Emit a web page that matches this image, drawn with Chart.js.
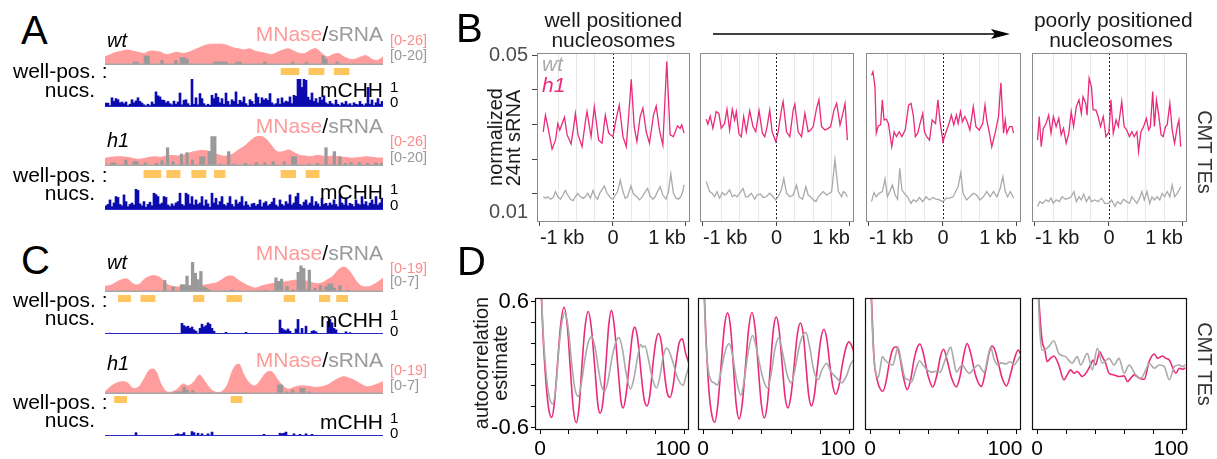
<!DOCTYPE html>
<html><head><meta charset="utf-8">
<script src="https://cdn.jsdelivr.net/npm/chart.js@4.4.1/dist/chart.umd.min.js"></script>
<style>
html,body{margin:0;padding:0;background:#fff;}
#root{position:relative;width:1217px;height:459px;overflow:hidden;font-family:"Liberation Sans",Arial,sans-serif;color:#000;}
.t{position:absolute;white-space:nowrap;line-height:1;}
</style></head><body><div id="root">
<svg style="position:absolute;left:0;top:0" width="1217" height="459">
<line x1="713" y1="34" x2="996" y2="34" stroke="#000" stroke-width="1.5"/>
<polygon points="991,29 1010,34 991,39 995,34" fill="#000"/>
</svg>
</div>
<script>
// ---------------- DATA ----------------
// Panels A / C : genome-browser tracks (x in track units 0..100)
const MN_POS = [0,2,4,6,8,10,12,14,16,18,20,22,24,26,28,30,32,34,36,38,40,42,44,46,48,50,52,54,56,58,60,62,64,66,68,70,72,74,76,78,80,82,84,86,88,90,92,94,96,98,100];
const A_WT_MNASE = [7,9,11,12,13,12,11,10,12,12,11,9,10,11,10,11,13,15,17,18,18,18,17,15,14,13,14,12,11,10,9,11,13,14,12,10,10,13,14,10,7,9,10,7,5,5,7,8,5,4,7];
const A_H1_MNASE = [6.6,7.5,8,8,7.5,6.6,5.8,6.4,7.5,8,7.5,8.7,9.2,8.7,9.2,11,12.4,13.3,13.3,12.4,10.4,8.7,8.7,10.4,13.9,16.8,21.1,24.9,26,23.1,17.3,12.4,12.4,13.9,11.6,9.2,8.7,8,9.2,8.7,8,8.7,8,7.5,6.9,6.9,7.5,8,7.5,6.9,6.9];
const C_WT_MNASE = [3.6,4.2,6.1,7.8,8.2,5.3,4.6,7.8,9.9,10.3,8.9,5.3,3.6,3.2,3.2,3.6,4.0,4.0,4.4,5.1,5.7,7.8,9.9,9.9,7.4,5.3,3.6,2.5,3.6,4.6,5.3,5.7,6.1,6.8,7.4,7.8,7.2,6.1,5.3,5.7,7.8,9.9,14.1,15.8,13.1,7.8,4.0,3.2,4.0,6.1,8.9];
const C_H1_MNASE = [1.5,4.6,6.8,7.8,7.2,3.6,4.2,9.3,15.2,15.2,6.8,1.5,1.3,3.0,6.3,5.1,7.8,12.0,7.8,3.0,1.1,1.5,5.7,15.2,19.4,12.0,6.8,5.1,8.9,13.5,14.1,9.3,5.1,3.0,4.2,5.1,5.1,4.6,4.2,4.6,5.7,7.8,9.9,11.0,9.9,8.4,6.3,4.6,5.1,6.3,7.8];

// sRNA bars: [position, value]
const A_WT_SRNA = [[10.5,2],[11.5,2],[14.5,6],[15.5,6],[20.5,3],[25.5,3],[27.5,5],[28.5,5],[29.5,4],[39.5,2],[40.5,2],[41.5,2],[42.5,2],[43.5,2],[47.5,2],[48.5,2],[57.5,2],[67.5,2],[72.5,2],[78.5,6],[79.5,4],[83.5,2]];
const A_H1_SRNA = [[2.5,2],[3.5,2],[7.5,4],[10.5,3],[11.5,3],[14.5,2.2],[18.5,1.8],[20.5,3.5],[22.5,12.2],[24.5,2.9],[27.5,8],[29.5,8.9],[31.5,4],[34.5,6.2],[35.5,6.2],[37.5,9.6],[38.5,19.6],[39.5,19.6],[41.5,1.3],[44.5,9.6],[46.5,1.3],[50.5,1.8],[54.5,2.2],[57.5,2.2],[60.5,2.9],[64.5,2.9],[67.5,6.2],[68.5,6.2],[73.5,1.3],[76.5,1.8],[79.5,12.2],[82.5,9.6],[84.5,6.2],[86.5,1.8],[88.5,2.2],[91.5,2.2],[94.5,1.8],[97.5,2.2],[99.5,1.8]];
const C_WT_SRNA = [[21.5,2.7],[24.5,1.2],[27.5,1.7],[28.5,1.7],[29.5,3.7],[30.5,1.5],[31.5,7.2],[32.5,4.4],[33.5,2.9],[34.5,4.8],[35.5,1.2],[36.5,0.9],[37.5,0.5],[45.5,0.5],[57.5,0.4],[61.5,3.3],[62.5,2.5],[63.5,3.0],[65.5,1.3],[67.5,0.5],[69.5,4.6],[70.5,6.1],[71.5,5.5],[72.5,0.5],[73.5,5.1],[75.5,0.9],[77.5,1.5],[79.5,1.3],[80.5,1.9],[81.5,1.9],[82.5,0.9],[84.5,1.5],[87.5,0.4]];
const C_H1_SRNA = [[25.5,0.5],[26.5,0.5],[27.5,0.5],[28.5,1.6],[29.5,0.9],[31.5,0.8],[37.5,0.3],[62.5,2.1],[63.5,2.1],[65.5,0.5],[67.5,0.9],[70.5,1.3],[71.5,1.3],[73.5,0.5]];

// well-positioned nucleosomes: [start, end]
const A_WT_NUCS = [[63.3,69.8],[73.3,78.8],[82.5,87.8]];
const A_H1_NUCS = [[14.0,20.1],[22.2,27.0],[31.2,36.3],[39.3,43.2],[63.3,68.6],[72.3,77.0]];
const C_WT_NUCS = [[4.8,9.2],[12.9,18.0],[31.8,35.6],[43.8,49.2],[64.4,68.3],[77.1,80.9],[83.3,87.3]];
const C_H1_NUCS = [[3.4,7.8],[45.3,49.3]];

// mCHH (139 bins)
const A_WT_MCHH = [.14,.14,.05,.33,.2,.3,.26,.15,.18,.12, .18,.05,.1,.26,.15,.22,.33,.2,.14,.08, .04,.1,.05,.18,.1,.54,.4,.36,.25,.24, .15,.2,.12,.08,.21,.1,.18,.5,.08,.24, .26,.12,.05,.99,.1,.33,.08,.48,.3,.12, .05,.1,.06,.42,.3,.48,.35,.15,.3,.1, .5,.2,.08,.26,.2,.54,.1,.24,.18,.36, .12,.05,.26,.2,.1,.48,.35,.12,.33,.25, .3,.24,.48,.15,.08,.12,.3,.1,.33,.15, .21,.18,.36,.12,.42,.38,1,1,.7,1, .95,.35,.25,.5,.2,.3,.15,.35,.25,.4, .15,.1,.2,.12,.08,.25,.1,.05,.15,.1, .2,.08,.12,.05,.15,.1,.08,.2,.1,.05, .12,.7,.1,.25,.05,.15,.3,.1,.2];
const A_H1_MCHH = [.15,.2,.36,.12,.25,.48,.45,.2,.15,.54, .3,.12,.2,.25,.18,.74,.7,.22,.15,.3, .1,.2,.28,.15,.6,.55,.48,.2,.25,.48, .45,.18,.12,.22,.15,.25,.3,.6,.2,.15, .6,.55,.22,.48,.18,.36,.2,.25,.48,.15, .36,.22,.1,.6,.25,.42,.18,.3,.48,.2, .15,.25,.48,.2,.12,.36,.22,.28,.48,.15, .3,.18,.1,.22,.24,.15,.2,.36,.12,.25, .3,.15,.2,.28,.42,.18,.12,.36,.2,.15, .3,.22,.54,.18,.25,.48,.6,.2,.15,.28, .36,.18,.25,.48,.15,.3,.22,.12,.42,.2, .24,.15,.25,.18,.36,.2,.12,.54,.25,.18, .42,.15,.24,.2,.12,.36,.22,.18,.48,.2, .3,.15,.25,.36,.2,.48,.18,.25,.42];
const C_WT_MCHH = [0,0,.03,0,0,0,0,0,0,0, 0,0,0,0,0,0,0,0,0,0, 0,0,0,0,0,0,0,0,0,0, 0,0,0,0,0,0,0,0,.38,.3, .25,.28,.2,.25,.15,.1,0,.2,.35,.25, .3,.4,.35,.2,.1,0,0,0,0,0, .06,0,0,0,0,0,0,0,0,0, .06,0,0,0,0,0,0,0,0,0, 0,0,0,0,0,0,0,.5,.2,.15, .12,.18,.1,0,0,.18,.52,0,.2,0, .28,0,0,.1,.12,.08,0,0,0,0, 0,.45,.52,.4,.2,.15,0,0,0,0, .08,0,.05,0,0,0,0,0,0,0, 0,0,0,0,0,0,0,0,0];
const C_H1_MCHH = [0,0,0,0,0,0,0,0,0,0, 0,0,0,0,0,.12,0,0,0,0, 0,0,0,0,0,0,0,0,0,0, 0,0,0,0,0,.06,.08,.05,.06,.12, 0,0,0,.16,.12,0,.1,0,.08,0, 0,.08,0,.14,0,0,0,0,0,0, 0,0,0,0,0,0,0,0,0,0, 0,0,0,0,0,0,0,0,0,.06, 0,0,0,0,0,0,0,.1,.08,.1, .14,0,0,0,.08,0,0,.06,0,0, .08,0,0,.06,0,0,0,0,0,0, 0,0,0,0,0,0,0,0,0,0, 0,0,0,0,0,0,0,0,0,0, 0,0,0,0,0,0,0,0,0];

// Panel B : normalized 24nt sRNA, [position bp, value]
const B_XTICKS = [-1000,-750,-500,-250,0,250,500,750,1000];
const B_XLABELS = ['-1 kb','','','','0','','','','1 kb'];
const B_XMAJOR = [1,0,0,0,1,0,0,0,1];
const B_YTICKS = [0.00482,0.01,0.02,0.03,0.04,0.05];
const B_YLABELS = ['0.01','','','','','0.05'];
const B1_H1 = [[-955,.0279],[-924,.0327],[-892,.0294],[-833,.0229],[-787,.0255],[-755,.0303],[-728,.0284],[-664,.0321],[-628,.0270],[-573,.0244],[-537,.0294],[-514,.0332],[-478,.0270],[-423,.0236],[-378,.0308],[-355,.0337],[-300,.0265],[-255,.0351],[-196,.0255],[-150,.0246],[-105,.0327],[-59,.0275],[0,.0265],[41,.0313],[86,.0356],[137,.0265],[182,.0236],[228,.0361],[250,.0430],[291,.0294],[328,.0251],[373,.0323],[410,.0347],[455,.0279],[500,.0246],[555,.0327],[592,.0353],[637,.0284],[683,.0241],[737,.0481],[783,.0270],[828,.0265],[883,.0296],[919,.0289],[942,.0299],[973,.0275]];
const B1_WT = [[-955,.0092],[-924,.0088],[-892,.0092],[-855,.0085],[-819,.0090],[-787,.0107],[-755,.0092],[-719,.0085],[-683,.0097],[-651,.0110],[-619,.0097],[-582,.0085],[-546,.0081],[-514,.0092],[-482,.0102],[-446,.0092],[-410,.0088],[-378,.0092],[-346,.0102],[-309,.0088],[-273,.0110],[-241,.0092],[-209,.0085],[-182,.0102],[-118,.0123],[-82,.0102],[-36,.0090],[0,.0085],[32,.0097],[64,.0107],[100,.0140],[137,.0107],[168,.0088],[200,.0092],[246,.0123],[282,.0100],[328,.0092],[364,.0083],[396,.0090],[428,.0102],[473,.0116],[510,.0094],[546,.0085],[578,.0092],[610,.0107],[646,.0121],[683,.0097],[728,.0085],[760,.0107],[792,.0158],[828,.0102],[865,.0088],[896,.0085],[928,.0092],[956,.0107],[974,.0126]];
const B2_H1 = [[-955,.0315],[-933,.0301],[-901,.0324],[-865,.0289],[-819,.0337],[-783,.0332],[-751,.0289],[-705,.0303],[-673,.0344],[-637,.0284],[-601,.0344],[-569,.0313],[-546,.0337],[-510,.0273],[-478,.0265],[-446,.0323],[-410,.0279],[-364,.0340],[-319,.0294],[-282,.0279],[-237,.0340],[-191,.0275],[-159,.0265],[-127,.0294],[-91,.0342],[-59,.0279],[-9,.0251],[23,.0279],[68,.0342],[91,.0366],[137,.0279],[182,.0265],[228,.0342],[250,.0359],[296,.0279],[341,.0265],[387,.0332],[432,.0279],[464,.0284],[500,.0294],[546,.0347],[578,.0371],[614,.0294],[660,.0284],[705,.0289],[737,.0294],[783,.0342],[819,.0361],[865,.0299],[901,.0330],[933,.0361],[965,.0255]];
const B2_WT = [[-955,.0136],[-910,.0107],[-874,.0102],[-842,.0092],[-810,.0107],[-774,.0088],[-737,.0104],[-705,.0097],[-673,.0102],[-637,.0112],[-601,.0092],[-569,.0097],[-537,.0092],[-501,.0102],[-455,.0116],[-419,.0092],[-387,.0092],[-341,.0102],[-296,.0085],[-264,.0097],[-218,.0100],[-182,.0090],[-137,.0092],[-91,.0102],[-46,.0092],[-9,.0083],[23,.0092],[68,.0112],[100,.0145],[137,.0102],[182,.0092],[228,.0097],[273,.0126],[309,.0092],[355,.0085],[400,.0121],[432,.0097],[464,.0092],[500,.0083],[537,.0078],[569,.0092],[614,.0102],[637,.0107],[683,.0097],[719,.0102],[751,.0107],[796,.0198],[842,.0107],[887,.0092],[910,.0107],[933,.0104],[965,.0092]];
const B3_H1 = [[-965,.0442],[-946,.0452],[-919,.0409],[-901,.0275],[-874,.0296],[-842,.0299],[-819,.0371],[-796,.0313],[-764,.0315],[-737,.0303],[-692,.0236],[-660,.0279],[-628,.0265],[-592,.0279],[-555,.0265],[-510,.0284],[-464,.0356],[-432,.0361],[-401,.0327],[-373,.0265],[-341,.0275],[-309,.0303],[-273,.0332],[-250,.0279],[-219,.0265],[-182,.0255],[-146,.0313],[-100,.0303],[-68,.0371],[-36,.0303],[0,.0251],[36,.0275],[82,.0303],[114,.0327],[146,.0299],[182,.0327],[205,.0303],[237,.0337],[264,.0308],[296,.0323],[328,.0308],[364,.0284],[410,.0351],[446,.0294],[491,.0284],[537,.0303],[569,.0356],[592,.0313],[628,.0275],[660,.0236],[705,.0275],[751,.0323],[783,.0420],[819,.0275],[842,.0313],[864,.0275],[901,.0294],[933,.0294],[955,.0275]];
const B3_WT = [[-965,.0078],[-933,.0104],[-901,.0092],[-864,.0102],[-819,.0107],[-783,.0143],[-751,.0092],[-719,.0107],[-683,.0126],[-646,.0097],[-614,.0085],[-583,.0174],[-555,.0112],[-523,.0102],[-478,.0092],[-432,.0073],[-401,.0083],[-355,.0078],[-319,.0090],[-273,.0078],[-228,.0092],[-182,.0083],[-137,.0090],[-91,.0085],[-45,.0083],[0,.0078],[45,.0088],[91,.0088],[137,.0092],[173,.0107],[205,.0121],[241,.0161],[273,.0102],[319,.0083],[364,.0092],[410,.0102],[455,.0097],[500,.0083],[546,.0092],[592,.0107],[637,.0092],[683,.0107],[728,.0092],[774,.0116],[810,.0150],[842,.0107],[874,.0092],[910,.0107],[955,.0088]];
const B4_H1 = [[-965,.0255],[-942,.0323],[-915,.0236],[-887,.0289],[-851,.0303],[-815,.0327],[-783,.0275],[-751,.0323],[-714,.0294],[-678,.0318],[-646,.0270],[-614,.0289],[-578,.0246],[-542,.0275],[-510,.0337],[-478,.0294],[-441,.0351],[-405,.0371],[-373,.0332],[-350,.0380],[-314,.0361],[-296,.0327],[-268,.0433],[-237,.0409],[-214,.0342],[-177,.0342],[-146,.0323],[-114,.0294],[-77,.0323],[-41,.0265],[0,.0279],[27,.0371],[59,.0275],[96,.0313],[127,.0294],[173,.0366],[205,.0294],[241,.0284],[277,.0265],[310,.0279],[341,.0265],[378,.0279],[400,.0222],[432,.0279],[469,.0294],[505,.0318],[537,.0284],[560,.0294],[592,.0395],[614,.0294],[642,.0371],[673,.0327],[705,.0270],[733,.0265],[764,.0294],[787,.0299],[823,.0361],[855,.0284],[887,.0246],[924,.0294],[946,.0313],[969,.0236]];
const B4_WT = [[-965,.0064],[-933,.0078],[-896,.0073],[-851,.0083],[-815,.0078],[-783,.0088],[-751,.0073],[-714,.0083],[-669,.0078],[-633,.0092],[-587,.0085],[-542,.0088],[-510,.0092],[-473,.0107],[-441,.0078],[-405,.0092],[-373,.0083],[-341,.0100],[-305,.0078],[-268,.0092],[-237,.0078],[-191,.0083],[-146,.0078],[-100,.0088],[-55,.0073],[0,.0073],[36,.0083],[82,.0064],[114,.0078],[159,.0071],[196,.0085],[241,.0078],[277,.0073],[310,.0092],[341,.0083],[378,.0073],[414,.0088],[446,.0107],[478,.0083],[514,.0107],[551,.0073],[582,.0092],[614,.0083],[651,.0092],[687,.0083],[719,.0102],[751,.0092],[787,.0107],[823,.0092],[855,.0126],[887,.0092],[924,.0102],[960,.0116],[969,.0121]];

// Panel D : autocorrelation estimate, [lag, value]
const D_XTICKS = [0,20,40,60,80,100];
const D_XLABELS = ['0','','','','','100\u00a0\u00a0\u00a0\u00a0'];
const D_YTICKS = [-0.6,-0.4,-0.2,0,0.2,0.4,0.6];
const D_YLABELS = ['-0.6','','','','','','0.6'];
const D1_H1 = [[0,1],[1,0.62],[2,0.30],[4,-0.15],[6,-0.42],[8,-0.50],[10,-0.35],[12,0.0],[14,0.35],[16.5,0.55],[19,0.35],[21,-0.05],[23,-0.42],[25,-0.55],[27,-0.4],[29,0.0],[31,0.35],[33.3,0.51],[35.5,0.35],[38,-0.05],[40,-0.38],[41.5,-0.46],[43.5,-0.35],[45.5,0.0],[47.5,0.38],[49.4,0.52],[51.5,0.35],[54,-0.05],[56,-0.35],[57.5,-0.41],[59.5,-0.28],[62,0.05],[64,0.30],[65.5,0.36],[67.5,0.25],[70,-0.1],[72,-0.33],[74,-0.39],[76,-0.28],[78,0.0],[80,0.22],[82,0.30],[84,0.2],[86,-0.08],[88,-0.27],[90,-0.31],[92,-0.2],[94,0.02],[96,0.2],[98.4,0.25],[100.5,0.12],[102.8,0.02]];
const D1_WT = [[0,1],[1,0.65],[2,0.35],[4,-0.05],[6,-0.28],[8.7,-0.37],[11,-0.2],[13,0.15],[15,0.4],[17.2,0.50],[19.5,0.35],[22,0.0],[24,-0.22],[26.4,-0.30],[28.5,-0.18],[31,0.05],[33,0.2],[35.7,0.27],[38,0.17],[40.5,-0.05],[42.5,-0.2],[44.8,-0.25],[47,-0.15],[49.5,0.05],[52,0.2],[54.5,0.26],[57,0.15],[59.5,-0.08],[62.5,-0.23],[65,-0.12],[67.5,0.08],[69.6,0.195],[71,0.17],[72.5,0.18],[75,0.05],[77.5,-0.12],[80.5,-0.22],[83,-0.1],[85,0.07],[87.4,0.16],[89,0.14],[92,0.02],[95,-0.12],[98.9,-0.195],[101,-0.1],[102.8,-0.02]];
const D2_H1 = [[0,1],[1,0.6],[2,0.25],[4,-0.25],[6,-0.48],[8,-0.546],[10,-0.38],[12.3,0],[14.5,0.36],[16.6,0.496],[18.7,0.36],[20.6,0],[22.6,-0.38],[24.6,-0.515],[26.7,-0.37],[29,0],[31.2,0.36],[33.3,0.50],[35.4,0.36],[37.5,0],[39.7,-0.37],[41.8,-0.505],[43.9,-0.36],[46,0],[47.9,0.33],[49.9,0.458],[51.9,0.33],[54,0],[55.9,-0.3],[57.9,-0.41],[60,-0.29],[62.2,0],[64.3,0.29],[66.4,0.40],[68.4,0.29],[70.2,0],[72,-0.28],[74,-0.39],[76,-0.28],[78.2,0],[80.4,0.25],[82.5,0.34],[84.5,0.24],[86.5,0],[88.5,-0.2],[90.5,-0.28],[92.7,-0.2],[95,0],[97.4,0.16],[99.5,0.22],[101.5,0.18],[103,0.12]];
const D2_WT = [[0,1],[1,0.55],[2,0.2],[3.5,-0.05],[5.5,-0.15],[7.4,-0.17],[9.7,-0.19],[12,-0.08],[14.5,0.1],[17.7,0.205],[20,0.1],[22.5,-0.12],[25.7,-0.29],[28,-0.15],[30.5,0.1],[33.8,0.28],[36.5,0.15],[39.5,-0.05],[42,-0.18],[44.1,-0.22],[46.5,-0.08],[49,0.15],[51.7,0.26],[54.5,0.1],[57.5,-0.1],[60.2,-0.17],[63,-0.02],[66,0.2],[70.1,0.31],[73,0.15],[75.5,-0.05],[78.6,-0.14],[81,-0.05],[84.4,0.016],[87,-0.06],[91.3,-0.126],[94.7,-0.17],[98,-0.1],[100.5,0.0],[102.8,0.05]];
const D3_H1 = [[0,1],[1,0.6],[2,0.25],[3,0.0],[4.1,-0.095],[6,-0.2],[8.7,-0.25],[11,-0.15],[13.5,0.05],[15.5,0.15],[17.9,0.174],[20,0.1],[22.5,-0.1],[25.3,-0.237],[27.5,-0.15],[30,0.05],[32,0.16],[34,0.2],[36.5,0.1],[39.5,-0.1],[42.8,-0.21],[45.5,-0.1],[48,0.08],[50.1,0.149],[52.5,0.05],[55.5,-0.12],[58.9,-0.21],[61.5,-0.1],[64,0.1],[66.2,0.205],[68.5,0.12],[72,-0.1],[75.9,-0.205],[78.5,-0.08],[81,0.1],[83,0.18],[85,0.15],[87,0.05],[90,-0.12],[93.1,-0.20],[96,-0.08],[98.5,0.06],[101.1,0.142],[102.5,0.11]];
const D3_WT = [[0,1],[1,0.55],[2,0.2],[3.5,-0.05],[5.5,-0.12],[7,-0.02],[8.3,0.08],[10,0.05],[12.2,0.02],[15.6,0.0],[17.5,0.1],[19,0.17],[21,0.05],[23.7,-0.12],[26,-0.14],[28.3,-0.16],[31,-0.05],[33.8,0.04],[36,0.0],[38.4,-0.04],[42,-0.07],[45,-0.06],[47.8,-0.07],[50,0.0],[52.5,0.1],[55,0.17],[57,0.05],[59,-0.07],[61,-0.03],[63,0.0],[65.5,-0.05],[68,-0.08],[71,-0.03],[74,0.0],[76,-0.04],[78,-0.07],[80,0.05],[82.3,0.17],[84.5,0.06],[87,0.0],[89.5,0.02],[92.6,0.01],[95.5,0.03],[98.4,0.0],[100.5,0.04],[102.5,0.08]];
const D4_H1 = [[0,1],[1,0.68],[3.4,0.237],[5.3,0.142],[6.9,0.032],[9.2,0.063],[11.5,0.085],[14.9,0.0],[18.4,-0.142],[20.7,-0.095],[23,-0.047],[25.3,-0.079],[27.6,-0.063],[31,-0.11],[33.3,-0.085],[36.8,0.0],[38.4,0.047],[40.2,0.0],[43,0.126],[44.8,0.079],[47.1,0.016],[49.4,-0.079],[52.9,-0.095],[56.3,-0.11],[59.8,-0.104],[62.1,-0.158],[64.4,-0.126],[66.7,-0.095],[70.1,-0.126],[73.6,-0.136],[77,0.032],[80.5,0.104],[82.8,0.063],[86.2,0.085],[88.5,0.063],[90.8,0.047],[95.4,-0.079],[97.7,-0.032],[100,-0.041],[101.8,-0.03]];
const D4_WT = [[0,1],[1,0.6],[2,0.3],[3.4,0.142],[5.7,0.148],[8,0.174],[11.5,0.23],[14.9,0.11],[19.5,0.079],[24.1,0.016],[27.6,0.079],[29.9,0.0],[34.5,0.11],[37.9,-0.047],[41.4,0.158],[44.8,0.016],[49.4,0.063],[52.9,0.0],[56.3,0.063],[59.8,-0.079],[63.2,0.0],[67.8,-0.095],[71.3,-0.126],[74.7,-0.047],[77,0.016],[80.5,-0.032],[83.9,0.0],[87.4,-0.016],[90.8,-0.142],[94.3,-0.016],[97.7,0.0],[100,-0.016],[101.8,0.0]];

// ---------------- DRAWING ----------------
const W = 1217;
const PINK = '#ea2a7a', GRAY = '#aaaaaa';
const root = document.getElementById('root');
Chart.defaults.font.family = '"Liberation Sans", Arial, sans-serif';
Chart.defaults.color = '#000';

const deco = {
  id: 'deco',
  beforeDatasetsDraw(chart, args, o) {
    const {ctx, chartArea: ca, scales} = chart;
    if (o && o.zeroX) {
      const x = Math.round(scales.x.getPixelForValue(0)) + 0.5;
      ctx.save(); ctx.strokeStyle = '#222'; ctx.lineWidth = 1; ctx.setLineDash([2, 2]);
      ctx.beginPath(); ctx.moveTo(x, ca.top); ctx.lineTo(x, ca.bottom); ctx.stroke(); ctx.restore();
    }
  },
  afterDatasetsDraw(chart, args, o) {
    const {ctx, chartArea: ca} = chart;
    if (o && o.frame) {
      ctx.save(); ctx.strokeStyle = o.frame; ctx.lineWidth = o.frameW || 1;
      ctx.strokeRect(ca.left + 0.5, ca.top + 0.5, ca.width - 1, ca.height - 1); ctx.restore();
    }
    if (o && o.base) {
      ctx.save(); ctx.strokeStyle = o.base; ctx.lineWidth = o.baseW || 1;
      const y = ca.bottom - (o.baseW || 1) / 2;
      ctx.beginPath(); ctx.moveTo(ca.left, y); ctx.lineTo(ca.right, y); ctx.stroke(); ctx.restore();
    }
  }
};
Chart.register(deco);

function mk(x, y, w, h, cfg) {
  const cv = document.createElement('canvas');
  cv.width = w; cv.height = h;
  cv.style.cssText = 'position:absolute;left:' + x + 'px;top:' + y + 'px;width:' + w + 'px;height:' + h + 'px';
  root.appendChild(cv);
  const o = cfg.options || (cfg.options = {});
  o.responsive = false; o.animation = false; o.events = []; o.devicePixelRatio = 1;
  o.plugins = Object.assign({legend: {display: false}, tooltip: {enabled: false}}, o.plugins || {});
  if (!o.layout) o.layout = {padding: 0};
  return new Chart(cv.getContext('2d'), cfg);
}

function track(base, mn, sr, mMax, sMax) {
  mk(105, base - 30, 278, 30, {
    type: 'bar',
    data: {datasets: [
      {type: 'bar', data: sr.map(p => ({x: p[0], y: p[1]})), backgroundColor: '#999999', barThickness: 2.6, xAxisID: 'x', yAxisID: 'ys', order: 1},
      {type: 'line', data: mn.map((v, i) => ({x: MN_POS[i], y: v})), backgroundColor: '#ff9c9c', borderColor: '#ff9c9c', borderWidth: 1, fill: 'origin', pointRadius: 0, tension: 0.35, xAxisID: 'x', yAxisID: 'ym', order: 2}
    ]},
    options: {
      scales: {
        x: {type: 'linear', min: 0, max: 100, offset: false, display: false},
        ym: {type: 'linear', min: 0, max: mMax, display: false},
        ys: {type: 'linear', min: 0, max: sMax, display: false}
      },
      plugins: {deco: {base: '#a6a6a6', baseW: 1.5}}
    }
  });
}
function nucs(y0, h, list) {
  mk(105, y0, 278, h, {
    type: 'bar',
    data: {labels: ['n'], datasets: list.map(b => ({data: [b], backgroundColor: '#ffc55e', barPercentage: 1, categoryPercentage: 1, grouped: false}))},
    options: {indexAxis: 'y', scales: {x: {type: 'linear', min: 0, max: 100, display: false}, y: {display: false}}}
  });
}
const MC_BINS = A_WT_MCHH.map((_, i) => String(i));
function mchh(base, vals) {
  mk(105, base - 28, 278, 28, {
    type: 'bar',
    data: {labels: MC_BINS, datasets: [{data: vals, backgroundColor: '#0c0cae', barPercentage: 1, categoryPercentage: 1}]},
    options: {scales: {x: {display: false}, y: {min: 0, max: 1, display: false}}, plugins: {deco: {base: '#2a2ac8', baseW: 1}}}
  });
}

track(65, A_WT_MNASE, A_WT_SRNA, 26, 20);
nucs(68, 7, A_WT_NUCS);
mchh(107, A_WT_MCHH);
track(166, A_H1_MNASE, A_H1_SRNA, 26, 20);
nucs(170, 8, A_H1_NUCS);
mchh(210, A_H1_MCHH);
track(292, C_WT_MNASE, C_WT_SRNA, 19, 7);
nucs(295, 7, C_WT_NUCS);
mchh(334, C_WT_MCHH);
track(394, C_H1_MNASE, C_H1_SRNA, 19, 7);
nucs(396, 7, C_H1_NUCS);
mchh(436, C_H1_MCHH);

const B_FRAMES = [[537, 690], [700, 854], [866, 1021], [1032, 1187]];
const B_SERIES = [[B1_H1, B1_WT], [B2_H1, B2_WT], [B3_H1, B3_WT], [B4_H1, B4_WT]];
B_FRAMES.forEach((f, i) => {
  const L = i === 0 ? 57 : 25, T = 18, R = 25, Bm = 30;
  mk(f[0] - L, 53 - T, f[1] - f[0] + L + R, 169 + T + Bm, {
    type: 'line',
    data: {datasets: [
      {data: B_SERIES[i][1], borderColor: GRAY, borderWidth: 1.3, pointRadius: 0, tension: 0},
      {data: B_SERIES[i][0], borderColor: PINK, borderWidth: 1.3, pointRadius: 0, tension: 0}
    ]},
    options: {
      layout: {padding: {left: 0, top: T, right: R, bottom: 0}},
      scales: {
        x: {type: 'linear', min: -1040, max: 1055,
            afterBuildTicks: s => { s.ticks = B_XTICKS.map(v => ({value: v})); },
            afterFit: s => { s.height = Bm; },
            ticks: {align: 'inner', autoSkip: false, maxRotation: 0, padding: 0, color: '#1a1a1a', font: {size: 20}, callback: (v, k) => B_XLABELS[k]},
            grid: {color: c => B_XMAJOR[c.index] ? 'rgba(0,0,0,0)' : '#e8e8e8', tickColor: c => B_XMAJOR[c.index] ? '#444' : 'rgba(0,0,0,0)', tickLength: 4},
            border: {display: false}},
        y: {type: 'linear', display: i === 0, min: 0.00194, max: 0.05058,
            afterBuildTicks: s => { s.ticks = B_YTICKS.map(v => ({value: v})); },
            afterFit: s => { s.width = L; },
            ticks: {autoSkip: false, padding: 4, color: '#4d4d4d', font: {size: 20}, callback: (v, k) => B_YLABELS[k]},
            grid: {drawOnChartArea: false, tickLength: 5, tickColor: c => c.index === 0 ? 'rgba(0,0,0,0)' : '#444'},
            border: {display: false}}
      },
      plugins: {deco: {frame: '#8c8c8c', frameW: 1, zeroX: true}}
    }
  });
});

const D_FRAMES = [[535, 689], [698, 854], [865, 1021], [1032, 1187]];
const D_SERIES = [[D1_H1, D1_WT], [D2_H1, D2_WT], [D3_H1, D3_WT], [D4_H1, D4_WT]];
D_FRAMES.forEach((f, i) => {
  const L = i === 0 ? 50 : 25, T = 18, R = 32, Bm = 32;
  mk(f[0] - L, 298 - T, f[1] - f[0] + L + R, 132 + T + Bm, {
    type: 'line',
    data: {datasets: [
      {data: D_SERIES[i][1], borderColor: GRAY, borderWidth: 1.6, pointRadius: 0, cubicInterpolationMode: 'monotone'},
      {data: D_SERIES[i][0], borderColor: PINK, borderWidth: 1.6, pointRadius: 0, cubicInterpolationMode: 'monotone'}
    ]},
    options: {
      layout: {padding: {left: 0, top: T, right: R, bottom: 0}},
      scales: {
        x: {type: 'linear', min: -3.5, max: 103,
            afterBuildTicks: s => { s.ticks = D_XTICKS.map(v => ({value: v})); },
            afterFit: s => { s.height = Bm; },
            ticks: {autoSkip: false, maxRotation: 0, padding: 3, color: '#000', font: {size: 21}, callback: (v, k) => D_XLABELS[k]},
            grid: {drawOnChartArea: false, tickLength: 4, tickColor: '#000'},
            border: {display: false}},
        y: {type: 'linear', display: i === 0, min: -0.62, max: 0.638,
            afterBuildTicks: s => { s.ticks = D_YTICKS.map(v => ({value: v})); },
            afterFit: s => { s.width = L; },
            ticks: {autoSkip: false, padding: 2, color: '#000', font: {size: 22}, callback: (v, k) => D_YLABELS[k]},
            grid: {drawOnChartArea: false, tickLength: 4, tickColor: '#000'},
            border: {display: false}}
      },
      plugins: {deco: {frame: '#111', frameW: 1.2}}
    }
  });
});

// ---------------- TEXT ----------------
function txt(s, x, base, size, o) {
  o = o || {};
  const d = document.createElement('div'); d.className = 't';
  d.style.fontSize = size + 'px';
  d.style.top = (base - 0.8465 * size) + 'px';
  if (o.align === 'right') d.style.right = (W - x) + 'px';
  else if (o.align === 'center') { d.style.left = x + 'px'; d.style.transform = 'translateX(-50%)'; }
  else d.style.left = x + 'px';
  if (o.color) d.style.color = o.color;
  if (o.italic) d.style.fontStyle = 'italic';
  if (o.html) d.innerHTML = s; else d.textContent = s;
  root.appendChild(d);
}
function rtxt(s, cx, cy, size, deg, color) {
  const d = document.createElement('div'); d.className = 't';
  d.style.fontSize = size + 'px'; d.style.left = cx + 'px'; d.style.top = cy + 'px';
  d.style.transform = 'translate(-50%,-50%) rotate(' + deg + 'deg)';
  if (color) d.style.color = color;
  d.textContent = s; root.appendChild(d);
}
const MN_HTML = '<span style="color:#ff9a9a">MNase</span>/<span style="color:#9a9a9a">sRNA</span>';
const SAL = '#ff8c8c', GR = '#999999';
function block(g) {
  txt(g.name, 107, g.name_b, 20, {italic: true});
  txt(MN_HTML, 383, g.mn_b, 21, {align: 'right', html: true});
  txt(g.r1, 390, g.r1_b, 14.5, {color: SAL});
  txt(g.r2, 390, g.r2_b, 14.5, {color: GR});
  txt('well-pos. :', 13, g.wp_b, 21);
  txt('nucs.', 95, g.nu_b, 21, {align: 'right'});
  txt('mCHH', 383, g.mc_b, 21, {align: 'right'});
  txt('1', 390, g.one_b, 15);
  txt('0', 390, g.zero_b, 15);
}
txt('A', 21, 43.6, 40);
block({name: 'wt', name_b: 47, mn_b: 41, r1: '[0-26]', r1_b: 45, r2: '[0-20]', r2_b: 60, wp_b: 78, nu_b: 96.7, mc_b: 96.7, one_b: 91.7, zero_b: 106.7});
block({name: 'h1', name_b: 147, mn_b: 133, r1: '[0-26]', r1_b: 146, r2: '[0-20]', r2_b: 162.5, wp_b: 181.7, nu_b: 200, mc_b: 198.3, one_b: 194, zero_b: 210});
txt('C', 21, 274, 40);
block({name: 'wt', name_b: 269, mn_b: 260, r1: '[0-19]', r1_b: 273, r2: '[0-7]', r2_b: 286.5, wp_b: 306.7, nu_b: 325, mc_b: 326.7, one_b: 320, zero_b: 336});
block({name: 'h1', name_b: 370, mn_b: 366.5, r1: '[0-19]', r1_b: 375, r2: '[0-7]', r2_b: 390, wp_b: 408.3, nu_b: 426.7, mc_b: 428.3, one_b: 423, zero_b: 438});

txt('B', 456, 41.6, 40);
txt('well positioned', 613.3, 26.7, 21, {align: 'center', color: '#1a1a1a'});
txt('nucleosomes', 613.3, 46.7, 21, {align: 'center', color: '#1a1a1a'});
txt('poorly positioned', 1113.3, 27, 21, {align: 'center', color: '#1a1a1a'});
txt('nucleosomes', 1111, 46.7, 21, {align: 'center', color: '#1a1a1a'});
txt('wt', 542, 71, 21, {italic: true, color: GRAY});
txt('h1', 542, 91.7, 21, {italic: true, color: PINK});
rtxt('normalized', 495, 137, 20, -90, '#1a1a1a');
rtxt('24nt sRNA', 513, 138, 20, -90, '#1a1a1a');
rtxt('CMT TEs', 1205, 151.5, 20, 90, '#333');

txt('D', 457, 275, 40);
rtxt('autocorrelation', 481, 363, 20, -90, '#1a1a1a');
rtxt('estimate', 500, 363, 20, -90, '#1a1a1a');
rtxt('CMT TEs', 1205, 363.5, 20, 90, '#333');
</script></body></html>
